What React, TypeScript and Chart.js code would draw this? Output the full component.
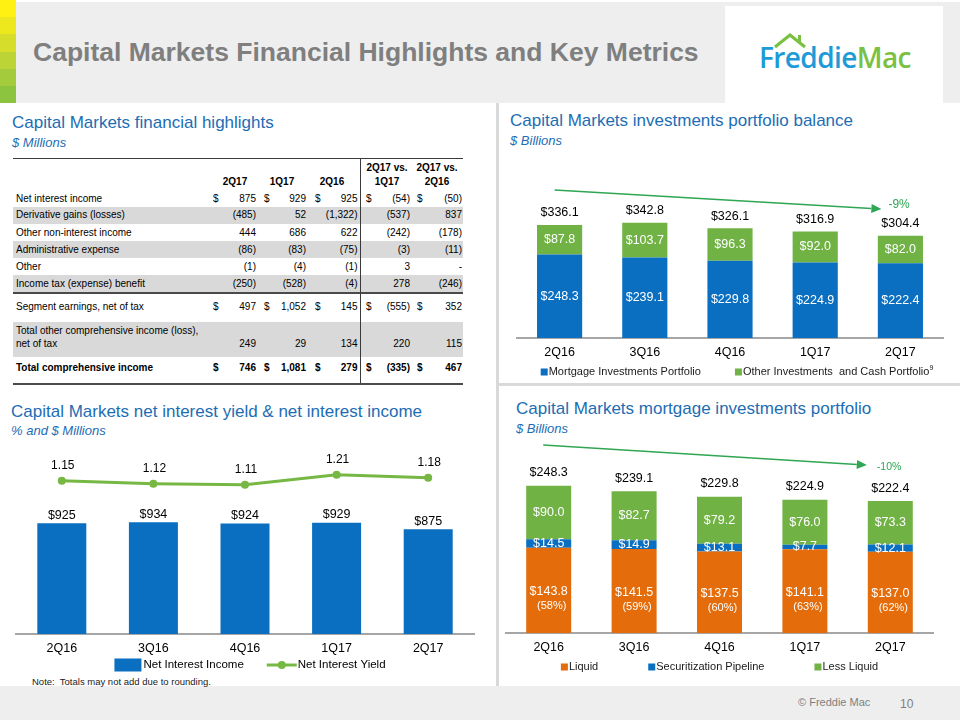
import React, { useEffect, useRef } from "react";
import { Chart, registerables } from "chart.js";

Chart.register(...registerables);

const FONT = "'Liberation Sans', Arial, Helvetica, sans-serif";

// ---------- data ----------
const quarters = ["2Q16", "3Q16", "4Q16", "1Q17", "2Q17"];

// investments portfolio balance ($ billions)
const mortgagePortfolio = [248.3, 239.1, 229.8, 224.9, 222.4];
const otherInvestments = [87.8, 103.7, 96.3, 92.0, 82.0];
const portfolioTotals = [336.1, 342.8, 326.1, 316.9, 304.4];
const portfolioChange = "-9%";

// net interest income ($ millions) and yield (%)
const netInterestIncome = [925, 934, 924, 929, 875];
const netInterestYield = [1.15, 1.12, 1.11, 1.21, 1.18];

// mortgage investments portfolio ($ billions)
const liquid = [143.8, 141.5, 137.5, 141.1, 137.0];
const liquidShare = [58, 59, 60, 63, 62];
const securitizationPipeline = [14.5, 14.9, 13.1, 7.7, 12.1];
const lessLiquid = [90.0, 82.7, 79.2, 76.0, 73.3];
const mortgageTotals = [248.3, 239.1, 229.8, 224.9, 222.4];
const mortgageChange = "-10%";

// financial highlights table ($ millions)
const tableHeaders = ["2Q17", "1Q17", "2Q16", "2Q17 vs.\n1Q17", "2Q17 vs.\n2Q16"];
const tableLabels = [
  "Net interest income",
  "Derivative gains (losses)",
  "Other non-interest income",
  "Administrative expense",
  "Other",
  "Income tax (expense) benefit",
  "Segment earnings, net of tax",
  "Total other comprehensive income (loss),\nnet of tax",
  "Total comprehensive income",
];
const col2Q17 = ["875", "(485)", "444", "(86)", "(1)", "(250)", "497", "249", "746"];
const col1Q17 = ["929", "52", "686", "(83)", "(4)", "(528)", "1,052", "29", "1,081"];
const col2Q16 = ["925", "(1,322)", "622", "(75)", "(1)", "(4)", "145", "134", "279"];
const colVs1Q17 = ["(54)", "(537)", "(242)", "(3)", "3", "278", "(555)", "220", "(335)"];
const colVs2Q16 = ["(50)", "837", "(178)", "(11)", "-", "(246)", "352", "115", "467"];
const dollarRows = [true, false, false, false, false, false, true, false, true];
const boldRows = [false, false, false, false, false, false, false, false, true];

// ---------- styles ----------
const BLUE = "#0A6FC0";
const GREEN = "#70B244";
const ORANGE = "#E46C0A";
const LINE_GREEN = "#76B843";
const ARROW_GREEN = "#2EA653";
const TITLE_BLUE = "#1C6DB4";
const AXIS_GRAY = "#A6A6A6";

function fmt1(v: number) {
  return "$" + v.toFixed(1);
}

function drawArrow(ctx: CanvasRenderingContext2D, x1: number, y1: number, x2: number, y2: number, color: string) {
  ctx.save();
  ctx.strokeStyle = color;
  ctx.fillStyle = color;
  ctx.lineWidth = 1.5;
  const ang = Math.atan2(y2 - y1, x2 - x1);
  const L = 10;
  const W = 4.5;
  const bx = x2 - L * Math.cos(ang);
  const by = y2 - L * Math.sin(ang);
  ctx.beginPath();
  ctx.moveTo(x1, y1);
  ctx.lineTo(bx, by);
  ctx.stroke();
  ctx.beginPath();
  ctx.moveTo(x2, y2);
  ctx.lineTo(bx - W * Math.sin(ang), by + W * Math.cos(ang));
  ctx.lineTo(bx + W * Math.sin(ang), by - W * Math.cos(ang));
  ctx.closePath();
  ctx.fill();
  ctx.restore();
}

type LegendItem = { label: string; color: string; sup?: string };

function drawSquareLegend(
  ctx: CanvasRenderingContext2D,
  items: LegendItem[],
  centerX: number,
  y: number,
  gap: number,
  size: number
) {
  ctx.save();
  ctx.font = `${size}px ${FONT}`;
  ctx.textBaseline = "middle";
  ctx.textAlign = "left";
  const box = 7;
  const supFont = `${Math.round(size * 0.65)}px ${FONT}`;
  const widths = items.map((it) => {
    let w = box + 1 + ctx.measureText(it.label).width;
    if (it.sup) {
      ctx.font = supFont;
      w += ctx.measureText(it.sup).width;
      ctx.font = `${size}px ${FONT}`;
    }
    return w;
  });
  const total = widths.reduce((a, b) => a + b, 0) + gap * (items.length - 1);
  let x = centerX - total / 2;
  items.forEach((it, i) => {
    ctx.fillStyle = it.color;
    ctx.fillRect(x, y - box / 2, box, box);
    ctx.fillStyle = "#1a1a1a";
    ctx.font = `${size}px ${FONT}`;
    const tx = x + box + 1;
    ctx.fillText(it.label, tx, y);
    if (it.sup) {
      const tw = ctx.measureText(it.label).width;
      ctx.font = supFont;
      ctx.fillText(it.sup, tx + tw, y - 4);
    }
    x += widths[i] + gap;
  });
  ctx.restore();
}

const xAxis = (size: number, pad: number, height: number) => ({
  stacked: true,
  grid: { display: false, drawTicks: false },
  border: { display: true, color: AXIS_GRAY, width: 2 },
  ticks: { color: "#000", font: { family: FONT, size }, padding: pad, maxRotation: 0 },
  afterFit: (s: any) => {
    s.height = height;
  },
});

// ---------- chart configs ----------
function portfolioConfig(): any {
  const labelPlugin = {
    id: "portfolioLabels",
    afterDatasetsDraw(chart: any) {
      const ctx = chart.ctx as CanvasRenderingContext2D;
      const m0 = chart.getDatasetMeta(0);
      const m1 = chart.getDatasetMeta(1);
      const area = chart.chartArea;
      ctx.save();
      ctx.textAlign = "center";
      ctx.textBaseline = "middle";
      ctx.font = `12.5px ${FONT}`;
      m0.data.forEach((bar: any, i: number) => {
        ctx.fillStyle = "#fff";
        ctx.fillText(fmt1(mortgagePortfolio[i]), bar.x, (bar.y + bar.base) / 2);
      });
      m1.data.forEach((bar: any, i: number) => {
        ctx.fillStyle = "#fff";
        ctx.fillText(fmt1(otherInvestments[i]), bar.x, (bar.y + bar.base) / 2);
        ctx.fillStyle = "#000";
        ctx.fillText(fmt1(portfolioTotals[i]), bar.x, bar.y - 12);
      });
      const first = m0.data[0].x;
      const last = m0.data[m0.data.length - 1].x;
      drawArrow(ctx, first - 5, area.top - 13.5, last - 19, area.top + 5.5, ARROW_GREEN);
      ctx.fillStyle = ARROW_GREEN;
      ctx.textAlign = "left";
      ctx.font = `12px ${FONT}`;
      ctx.fillText(portfolioChange, last - 12, area.top + 1.5);
      ctx.restore();
      drawSquareLegend(
        ctx,
        [
          { label: "Mortgage Investments Portfolio", color: BLUE },
          { label: "Other Investments  and Cash Portfolio", color: GREEN, sup: "9" },
        ],
        (area.left + area.right) / 2 + 7,
        area.bottom + 34,
        34,
        11
      );
    },
  };
  return {
    type: "bar",
    data: {
      labels: quarters,
      datasets: [
        { label: "Mortgage Investments Portfolio", data: mortgagePortfolio, backgroundColor: BLUE, barPercentage: 0.53, categoryPercentage: 1 },
        { label: "Other Investments and Cash Portfolio", data: otherInvestments, backgroundColor: GREEN, barPercentage: 0.53, categoryPercentage: 1 },
      ],
    },
    options: {
      responsive: false,
      animation: false,
      layout: { padding: { left: 17, right: 17, top: 43.5, bottom: 0 } },
      scales: {
        x: xAxis(12.5, 7, 47),
        y: { stacked: true, display: false, min: 0, max: 400 },
      },
      plugins: { legend: { display: false }, tooltip: { enabled: false } },
    },
    plugins: [labelPlugin],
  };
}

function mortgageConfig(): any {
  const labelPlugin = {
    id: "mortgageLabels",
    afterDatasetsDraw(chart: any) {
      const ctx = chart.ctx as CanvasRenderingContext2D;
      const m0 = chart.getDatasetMeta(0);
      const m1 = chart.getDatasetMeta(1);
      const m2 = chart.getDatasetMeta(2);
      const area = chart.chartArea;
      ctx.save();
      ctx.textAlign = "center";
      ctx.textBaseline = "middle";
      m0.data.forEach((bar: any, i: number) => {
        const cy = (bar.y + bar.base) / 2;
        ctx.fillStyle = "#fff";
        ctx.font = `12.5px ${FONT}`;
        ctx.fillText(fmt1(liquid[i]), bar.x, cy + 1.5);
        ctx.font = `11px ${FONT}`;
        ctx.fillText(`(${liquidShare[i]}%)`, bar.x + 3, cy + 15.5);
      });
      ctx.font = `12.5px ${FONT}`;
      m1.data.forEach((bar: any, i: number) => {
        ctx.fillStyle = "#fff";
        ctx.fillText(fmt1(securitizationPipeline[i]), bar.x, (bar.y + bar.base) / 2);
      });
      m2.data.forEach((bar: any, i: number) => {
        ctx.fillStyle = "#fff";
        ctx.fillText(fmt1(lessLiquid[i]), bar.x, (bar.y + bar.base) / 2);
        ctx.fillStyle = "#000";
        ctx.fillText(fmt1(mortgageTotals[i]), bar.x, bar.y - 13);
      });
      const first = m0.data[0].x;
      const last = m0.data[m0.data.length - 1].x;
      drawArrow(ctx, first - 5.5, area.top - 10, last - 23.5, area.top + 10, ARROW_GREEN);
      ctx.fillStyle = ARROW_GREEN;
      ctx.textAlign = "left";
      ctx.font = `10.5px ${FONT}`;
      ctx.fillText(mortgageChange, last - 13.5, area.top + 12);
      ctx.restore();
      drawSquareLegend(
        ctx,
        [
          { label: "Liquid", color: ORANGE },
          { label: "Securitization Pipeline", color: BLUE },
          { label: "Less Liquid", color: GREEN },
        ],
        (area.left + area.right) / 2,
        area.bottom + 34,
        50,
        11
      );
    },
  };
  const common = { barPercentage: 0.527, categoryPercentage: 1 };
  return {
    type: "bar",
    data: {
      labels: quarters,
      datasets: [
        { label: "Liquid", data: liquid, backgroundColor: ORANGE, ...common },
        { label: "Securitization Pipeline", data: securitizationPipeline, backgroundColor: BLUE, ...common },
        { label: "Less Liquid", data: lessLiquid, backgroundColor: GREEN, ...common },
      ],
    },
    options: {
      responsive: false,
      animation: false,
      layout: { padding: { left: 6, right: 27, top: 15.1, bottom: 0 } },
      scales: {
        x: xAxis(12.5, 7, 47),
        y: { stacked: true, display: false, min: 0, max: 300 },
      },
      plugins: { legend: { display: false }, tooltip: { enabled: false } },
    },
    plugins: [labelPlugin],
  };
}

function yieldConfig(): any {
  const labelPlugin = {
    id: "yieldLabels",
    afterDatasetsDraw(chart: any) {
      const ctx = chart.ctx as CanvasRenderingContext2D;
      const mBar = chart.getDatasetMeta(0);
      const mLine = chart.getDatasetMeta(1);
      const area = chart.chartArea;
      ctx.save();
      ctx.textAlign = "center";
      ctx.textBaseline = "middle";
      ctx.fillStyle = "#000";
      ctx.font = `12.5px ${FONT}`;
      mBar.data.forEach((bar: any, i: number) => {
        ctx.fillText("$" + netInterestIncome[i], bar.x, bar.y - 8);
      });
      ctx.font = `12px ${FONT}`;
      mLine.data.forEach((pt: any, i: number) => {
        ctx.fillText(netInterestYield[i].toFixed(2), pt.x + 1, pt.y - 15.5);
      });
      // legend
      const size = 11.5;
      ctx.font = `${size}px ${FONT}`;
      ctx.textAlign = "left";
      const t1 = "Net Interest Income";
      const t2 = "Net Interest Yield";
      const w1 = 27 + 2 + ctx.measureText(t1).width;
      const w2 = 30 + 1 + ctx.measureText(t2).width;
      const gap = 23;
      const cy = area.bottom + 31;
      let x = (area.left + area.right) / 2 + 5 - (w1 + gap + w2) / 2;
      ctx.fillStyle = BLUE;
      ctx.fillRect(x, cy - 6.5, 27, 13);
      ctx.fillStyle = "#000";
      ctx.fillText(t1, x + 29, cy);
      x += w1 + gap;
      ctx.strokeStyle = LINE_GREEN;
      ctx.lineWidth = 3;
      ctx.beginPath();
      ctx.moveTo(x, cy);
      ctx.lineTo(x + 30, cy);
      ctx.stroke();
      ctx.fillStyle = LINE_GREEN;
      ctx.beginPath();
      ctx.arc(x + 15, cy, 4, 0, Math.PI * 2);
      ctx.fill();
      ctx.fillStyle = "#000";
      ctx.fillText(t2, x + 31, cy);
      ctx.restore();
    },
  };
  return {
    type: "bar",
    data: {
      labels: quarters,
      datasets: [
        {
          type: "bar",
          label: "Net Interest Income",
          data: netInterestIncome,
          backgroundColor: BLUE,
          barPercentage: 0.535,
          categoryPercentage: 1,
          yAxisID: "y",
          order: 2,
        },
        {
          type: "line",
          label: "Net Interest Yield",
          data: netInterestYield,
          borderColor: LINE_GREEN,
          backgroundColor: LINE_GREEN,
          borderWidth: 3,
          pointRadius: 4,
          pointBackgroundColor: LINE_GREEN,
          pointBorderWidth: 0,
          tension: 0,
          yAxisID: "y1",
          clip: false,
          order: 1,
        },
      ],
    },
    options: {
      responsive: false,
      animation: false,
      layout: { padding: { left: 16, right: 16, top: 26.4, bottom: 0 } },
      scales: {
        x: { ...xAxis(12.5, 7, 41), stacked: false },
        y: { display: false, min: 0, max: 1400 },
        y1: { display: false, min: -0.383, max: 1.293 },
      },
      plugins: { legend: { display: false }, tooltip: { enabled: false } },
    },
    plugins: [labelPlugin],
  };
}

function ChartBox({ left, top, width, height, make }: { left: number; top: number; width: number; height: number; make: () => any }) {
  const ref = useRef<HTMLCanvasElement | null>(null);
  useEffect(() => {
    if (!ref.current) return;
    const chart = new Chart(ref.current, make());
    return () => chart.destroy();
  }, []);
  return (
    <div style={{ position: "absolute", left, top, width, height }}>
      <canvas ref={ref} width={width} height={height} style={{ width, height, display: "block" }} />
    </div>
  );
}

function Txt({
  x,
  y,
  size,
  children,
  color = "#000",
  bold = false,
  italic = false,
  align = "left",
}: {
  x: number;
  y: number;
  size: number;
  children: any;
  color?: string;
  bold?: boolean;
  italic?: boolean;
  align?: "left" | "right" | "center";
}) {
  const lh = size * 1.2;
  const style: React.CSSProperties = {
    position: "absolute",
    top: y - lh / 2,
    fontSize: size,
    lineHeight: `${lh}px`,
    color,
    fontWeight: bold ? 700 : 400,
    fontStyle: italic ? "italic" : "normal",
    fontFamily: FONT,
    whiteSpace: "pre",
  };
  if (align === "left") style.left = x;
  else if (align === "right") style.right = 960 - x;
  else {
    style.left = x - 100;
    style.width = 200;
    style.textAlign = "center";
  }
  return <div style={style}>{children}</div>;
}

function Box({ x, y, w, h, color }: { x: number; y: number; w: number; h: number; color: string }) {
  return <div style={{ position: "absolute", left: x, top: y, width: w, height: h, background: color }} />;
}

function HighlightsTable() {
  const rowGeom = [
    { top: 190, h: 17, cy: 198.5 },
    { top: 207, h: 17, cy: 215 },
    { top: 224, h: 17, cy: 232.5 },
    { top: 241, h: 17, cy: 249.5 },
    { top: 258, h: 17, cy: 266.5 },
    { top: 275, h: 17, cy: 284 },
    { top: 293, h: 29, cy: 307 },
    { top: 322, h: 35, cy: 344 },
    { top: 357, h: 26, cy: 368 },
  ];
  const shaded = [1, 3, 5, 7];
  const colRight = [256, 306, 357.5, 410, 462];
  const dollarX = [213, 264, 315, 366, 417];
  const headerCx = [235, 282, 332, 387, 437];
  const cols = [col2Q17, col1Q17, col2Q16, colVs1Q17, colVs2Q16];
  const fs = 10;
  const els: any[] = [];
  shaded.forEach((r) => {
    const g = rowGeom[r];
    els.push(<Box key={"sh" + r} x={13} y={g.top} w={450} h={g.h} color="#D9D9D9" />);
  });
  els.push(<Box key="lt" x={13} y={157.5} w={450} h={1.5} color="#3a3a3a" />);
  els.push(<Box key="lm" x={13} y={291.5} w={450} h={2} color="#4a4a4a" />);
  els.push(<Box key="lb" x={13} y={382.5} w={450} h={2} color="#4a4a4a" />);
  els.push(<Box key="lv" x={360} y={158} w={1} h={225} color="#3a3a3a" />);
  tableHeaders.forEach((h, i) => {
    const parts = h.split("\n");
    if (parts.length === 2) {
      els.push(
        <Txt key={"h1" + i} x={headerCx[i]} y={168} size={fs} bold align="center">
          {parts[0]}
        </Txt>
      );
      els.push(
        <Txt key={"h2" + i} x={headerCx[i]} y={182} size={fs} bold align="center">
          {parts[1]}
        </Txt>
      );
    } else {
      els.push(
        <Txt key={"h" + i} x={headerCx[i]} y={182} size={fs} bold align="center">
          {h}
        </Txt>
      );
    }
  });
  tableLabels.forEach((label, r) => {
    const g = rowGeom[r];
    const bold = boldRows[r];
    const parts = label.split("\n");
    if (parts.length === 2) {
      els.push(
        <Txt key={"l1" + r} x={16} y={331} size={fs} bold={bold}>
          {parts[0]}
        </Txt>
      );
      els.push(
        <Txt key={"l2" + r} x={16} y={g.cy} size={fs} bold={bold}>
          {parts[1]}
        </Txt>
      );
    } else {
      els.push(
        <Txt key={"l" + r} x={16} y={g.cy} size={fs} bold={bold}>
          {label}
        </Txt>
      );
    }
    cols.forEach((col, c) => {
      if (dollarRows[r]) {
        els.push(
          <Txt key={`d${r}_${c}`} x={dollarX[c]} y={g.cy} size={fs} bold={bold}>
            $
          </Txt>
        );
      }
      els.push(
        <Txt key={`v${r}_${c}`} x={colRight[c]} y={g.cy} size={fs} bold={bold} align="right">
          {col[r]}
        </Txt>
      );
    });
  });
  return <>{els}</>;
}

export default function App() {
  useEffect(() => {
    document.body.style.margin = "0";
  }, []);
  const stripColors = ["#FFF212", "#EDE81E", "#D6DE2B", "#BDD436", "#A4CB3C", "#8CC43F"];
  return (
    <div
      style={{
        position: "absolute",
        left: 0,
        top: 0,
        width: 960,
        height: 720,
        overflow: "hidden",
        background: "#fff",
        fontFamily: FONT,
      }}
    >
      {/* header */}
      <Box x={0} y={2} w={960} h={101} color="#EEEEEE" />
      {stripColors.map((c, i) => (
        <Box key={"s" + i} x={0} y={i * 17.2} w={16} h={17.2} color={c} />
      ))}
      <Txt x={33} y={53} size={26.5} bold color="#7F7F7F">
        Capital Markets Financial Highlights and Key Metrics
      </Txt>
      <Box x={725} y={6} w={218} h={97} color="#FFFFFF" />
      <svg style={{ position: "absolute", left: 770, top: 30 }} width={50} height={20}>
        <polyline points="5,17 20,5 35,17" fill="none" stroke="#7AC143" strokeWidth={3.2} strokeLinejoin="miter" />
        <rect x={28} y={5} width={3} height={7} fill="#7AC143" />
      </svg>
      <div
        style={{
          position: "absolute",
          left: 759,
          top: 40,
          fontFamily: "'Open Sans', 'Noto Sans', sans-serif",
          fontWeight: 600,
          fontSize: 28,
          lineHeight: "34px",
          letterSpacing: -0.6,
          whiteSpace: "pre",
        }}
      >
        <span style={{ color: "#1E9BD7" }}>Freddie</span>
        <span style={{ color: "#7AC143" }}>Mac</span>
      </div>

      {/* dividers */}
      <Box x={496} y={103} w={3} h={583} color="#D9D9D9" />
      <Box x={499} y={383} w={461} h={2.5} color="#D9D9D9" />

      {/* footer */}
      <Box x={0} y={686} w={960} h={34} color="#EEEEEE" />
      <Txt x={798} y={703} size={11} color="#7F7F7F">
        © Freddie Mac
      </Txt>
      <Txt x={900} y={704} size={12} color="#7F7F7F">
        10
      </Txt>

      {/* section titles */}
      <Txt x={12} y={123} size={17} color={TITLE_BLUE}>
        Capital Markets financial highlights
      </Txt>
      <Txt x={12} y={143} size={13} italic color={TITLE_BLUE}>
        $ Millions
      </Txt>
      <Txt x={510} y={121} size={17} color={TITLE_BLUE}>
        Capital Markets investments portfolio balance
      </Txt>
      <Txt x={510} y={141} size={13} italic color={TITLE_BLUE}>
        $ Billions
      </Txt>
      <Txt x={11} y={412} size={17} color={TITLE_BLUE}>
        Capital Markets net interest yield &amp; net interest income
      </Txt>
      <Txt x={11} y={431} size={13} italic color={TITLE_BLUE}>
        % and $ Millions
      </Txt>
      <Txt x={516} y={409} size={17} color={TITLE_BLUE}>
        Capital Markets mortgage investments portfolio
      </Txt>
      <Txt x={516} y={429} size={13} italic color={TITLE_BLUE}>
        $ Billions
      </Txt>

      <HighlightsTable />

      <ChartBox left={500} top={160} width={460} height={225} make={portfolioConfig} />
      <ChartBox left={0} top={440} width={490} height={235} make={yieldConfig} />
      <ChartBox left={500} top={440} width={460} height={240} make={mortgageConfig} />

      <Txt x={32} y={682} size={9.5} color="#1a1a1a">
        Note:  Totals may not add due to rounding.
      </Txt>
    </div>
  );
}
